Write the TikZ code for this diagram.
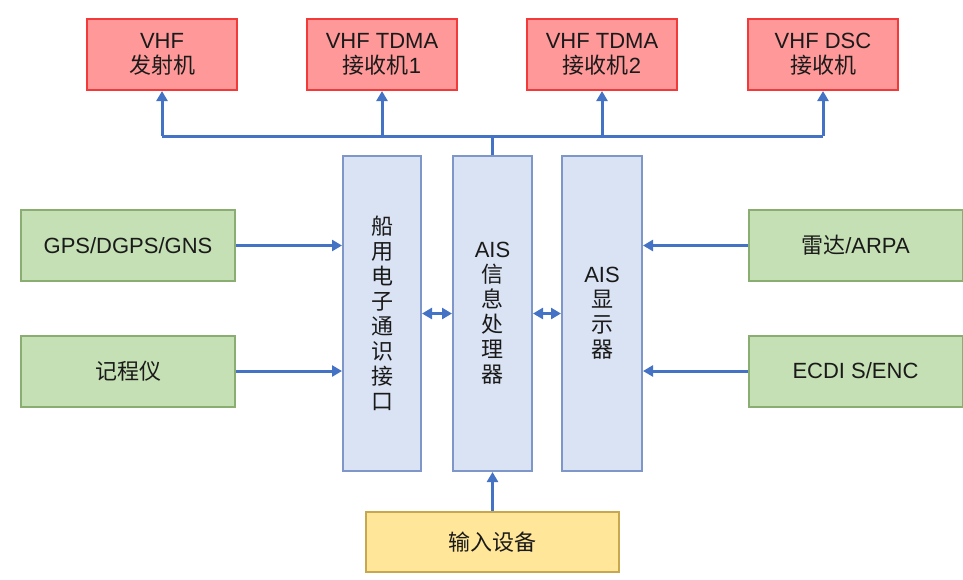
\documentclass[tikz,border=0pt]{standalone}
\usepackage{fontspec}
\usepackage{xcolor}
\usepackage{tikz}
\usetikzlibrary{arrows.meta}
\setmainfont{Liberation Sans}
\newfontfamily\cjk{Noto Sans CJK SC}
\newcommand{\zh}[1]{{\cjk #1}}
\definecolor{AISRed}{HTML}{FF9999}
\definecolor{AISRedLine}{HTML}{F23A3A}
\definecolor{AISGreen}{HTML}{C5E0B4}
\definecolor{AISGreenLine}{HTML}{8AAE72}
\definecolor{AISBlue}{HTML}{DAE3F3}
\definecolor{AISBlueLine}{HTML}{7F97C8}
\definecolor{AISYellow}{HTML}{FFE699}
\definecolor{AISYellowLine}{HTML}{C8A84E}
\definecolor{AISLink}{HTML}{4472C4}
\definecolor{AISInk}{HTML}{1A1A1A}
\tikzset{
  box/.style={draw,line width=1pt,inner sep=0pt,align=center,text=AISInk,
    font=\fontsize{11}{12.5}\selectfont},
  radio/.style={box,fill=AISRed,draw=AISRedLine,minimum width=75pt,minimum height=35.5pt},
  sensor/.style={box,fill=AISGreen,draw=AISGreenLine,minimum width=107pt,minimum height=35.5pt},
  unit/.style={box,fill=AISBlue,draw=AISBlueLine,minimum height=157.5pt},
  keyin/.style={box,fill=AISYellow,draw=AISYellowLine,minimum width=126.5pt,minimum height=30pt},
  wire/.style={AISLink,line width=1.5pt},
  feed/.style={wire,-{Triangle[length=5pt,width=5.5pt]}},
  both/.style={wire,{Triangle[length=5pt,width=5.5pt]}-{Triangle[length=5pt,width=5.5pt]}}
}

\begin{document}
\begin{tikzpicture}[x=0.5pt,y=-0.5pt]
    \useasboundingbox (0,0) rectangle (963,579);
    % VHF radios along the top
    \foreach \x/\n/\t in {162/tx/{VHF\\\zh{发射机}},382/rxa/{VHF TDMA\\\zh{接收机}1},
                          602/rxb/{VHF TDMA\\\zh{接收机}2},823/dsc/{VHF DSC\\\zh{接收机}}} {
      \node[radio] (\n) at (\x,54.5) {\t};
    }
    % central units
    \node[unit,minimum width=39pt] (iface) at (382,313.5)
      {\zh{船}\\\zh{用}\\\zh{电}\\\zh{子}\\\zh{通}\\\zh{识}\\\zh{接}\\\zh{口}};
    \node[unit,minimum width=39.5pt] (proc) at (492.5,313.5)
      {AIS\\\zh{信}\\\zh{息}\\\zh{处}\\\zh{理}\\\zh{器}};
    \node[unit,minimum width=40pt] (disp) at (602,313.5)
      {AIS\\\zh{显}\\\zh{示}\\\zh{器}};
    % sensors
    \node[sensor] (gps) at (128,245.5) {GPS/DGPS/GNS};
    \node[sensor] (log) at (128,371) {\zh{记程仪}};
    \node[sensor] (radar) at (855.5,245.5) {\zh{雷达}/ARPA};
    \node[sensor] (ecdis) at (855.5,371) {ECDI S/ENC};
    \node[keyin] (input) at (492.5,542) {\zh{输入设备}};

    % bus to the radios
    \coordinate (bus) at (0,136);
    \draw[wire] (proc.north) -- (proc.north |- bus);
    \draw[wire] (tx.south |- bus) -- (dsc.south |- bus);
    \foreach \n in {tx,rxa,rxb,dsc}
      \draw[feed] (\n.south |- bus) -- (\n.south);

    \draw[feed] (gps.east) -- (iface.west |- gps.east);
    \draw[feed] (log.east) -- (iface.west |- log.east);
    \draw[feed] (radar.west) -- (disp.east |- radar.west);
    \draw[feed] (ecdis.west) -- (disp.east |- ecdis.west);
    \draw[both] (iface.east) -- (proc.west);
    \draw[both] (proc.east) -- (disp.west);
    \draw[feed] (input.north) -- (proc.south);
  \end{tikzpicture}
\end{document}
